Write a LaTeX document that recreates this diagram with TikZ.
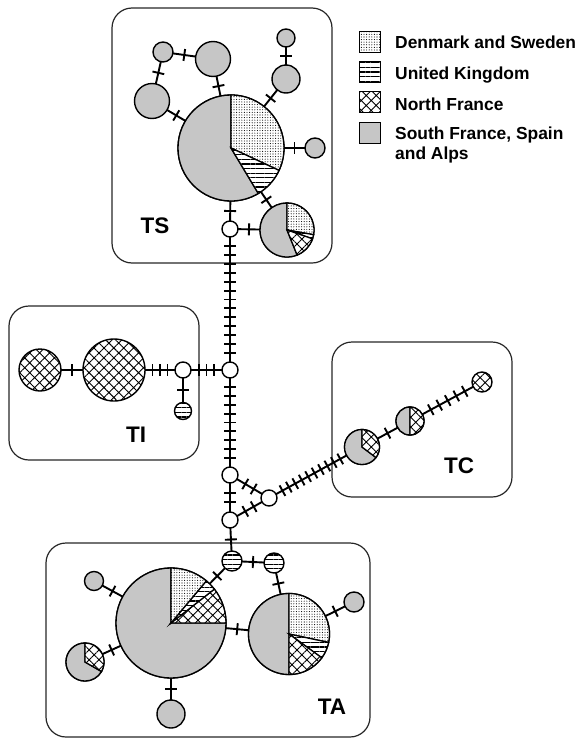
\documentclass[tikz,border=0pt]{standalone}
\usepackage{fontspec}
\setmainfont{Liberation Sans}
\usetikzlibrary{patterns.meta}
\definecolor{pg}{RGB}{198,198,198}
\tikzset{
  grp/.style={draw=black!85, line width=1.2pt, rounded corners=20pt},
  edge/.style={line width=1.9pt, black},
  tickmark/.style={rectangle, fill=black, draw=none, inner sep=0pt, outer sep=0pt, minimum width=1.9pt, minimum height=12pt},
  hn/.style={circle, draw=black, line width=1.4pt, inner sep=0pt, outer sep=0pt, minimum size=#1},
  dsl/.style={preaction={fill=white}, pattern={Dots[distance=2.6pt, radius=0.55pt]}},
  hsl/.style={preaction={fill=white}, pattern={Lines[angle=0, distance=4.6pt, line width=1.1pt]}},
  xsl/.style={preaction={fill=white}, pattern={Hatch[angle=45, distance=7pt, line width=0.9pt]}},
  gsl/.style={fill=pg},
  legsq/.style={rectangle, draw=black, line width=1.2pt, inner sep=0pt, minimum size=21pt},
  legtxt/.style={anchor=base west, inner sep=0pt, align=left, font=\bfseries\fontsize{17.4}{20}\selectfont},
  grplbl/.style={font=\bfseries\fontsize{22.5}{24}\selectfont, inner sep=0pt}
}
\newcommand\slc[5]{\draw[line width=1.3pt, #5] (#1.center) -- ++(#3:#2) arc[start angle=#3, end angle=#4, radius=#2] -- cycle;}
\newcommand\tedge[3]{%
  \draw[edge] (#1) -- (#2);
  \foreach \k in {1,...,#3}{%
    \pgfmathsetmacro\pp{\k/(#3+1)}%
    \path (#1) -- (#2) node[tickmark, sloped, pos=\pp]{};
  }%
}
\begin{document}
\begin{tikzpicture}[x=1pt,y=1pt]
\useasboundingbox (0,0) rectangle (579,-739);
% group boxes
\draw[grp] (112,-8) rectangle (332,-263);
\draw[grp] (9,-306) rectangle (199,-460);
\draw[grp] (332,-342) rectangle (512,-497);
\draw[grp] (46,-543) rectangle (370,-737);
\node[grplbl] (lts) at (155,-226) {TS};
\node[grplbl] (lti) at (136,-435) {TI};
\node[grplbl] (ltc) at (459,-466) {TC};
\node[grplbl] (lta) at (332,-707) {TA};

% TS nodes
\node[hn=106pt] (ts0) at (231,-148) {};
\node[hn=20pt, gsl] (ts1) at (163,-52) {};
\node[hn=35pt, gsl] (ts2) at (213,-59) {};
\node[hn=35pt, gsl] (ts3) at (152,-101) {};
\node[hn=18pt, gsl] (ts4) at (286,-38) {};
\node[hn=28pt, gsl] (ts5) at (286,-79) {};
\node[hn=20pt, gsl] (ts6) at (315,-148) {};
\node[hn=54pt] (ts7) at (287,-230) {};
\node[hn=16pt, fill=white] (w1) at (230,-229) {};
% junctions
\node[hn=16pt, fill=white] (j1) at (230,-370) {};
\node[hn=16pt, fill=white] (j2) at (230,-475) {};
\node[hn=16pt, fill=white] (j3) at (230,-520) {};
\node[hn=16pt, fill=white] (j4) at (269,-498) {};
% TI nodes
\node[hn=16pt, fill=white] (ti0) at (183,-370) {};
\node[hn=62pt, xsl] (ti1) at (114,-370) {};
\node[hn=42pt, xsl] (ti2) at (40,-370) {};
\node[hn=17pt, hsl] (ti3) at (183,-411) {};
% TC nodes
\node[hn=35pt] (tc0) at (362,-447) {};
\node[hn=28pt] (tc1) at (410,-421) {};
\node[hn=20pt, xsl] (tc2) at (482,-382) {};
% TA nodes
\node[hn=110pt] (ta0) at (171,-623) {};
\node[hn=20pt, hsl] (ta1) at (232,-561) {};
\node[hn=20pt, hsl] (ta2) at (274,-563) {};
\node[hn=81pt] (ta3) at (289,-634) {};
\node[hn=20pt, gsl] (ta4) at (354,-602) {};
\node[hn=19pt, gsl] (ta5) at (94,-581) {};
\node[hn=38pt] (ta6) at (85,-662) {};
\node[hn=28pt, gsl] (ta7) at (171,-714) {};

% pie slices
\slc{ts0}{53}{90}{301}{gsl}
\slc{ts0}{53}{-25}{90}{dsl}
\slc{ts0}{53}{-59}{-25}{hsl}
\slc{ts7}{27}{90}{292}{gsl}
\slc{ts7}{27}{-10}{90}{dsl}
\slc{ts7}{27}{-19}{-10}{hsl}
\slc{ts7}{27}{-68}{-19}{xsl}
\slc{tc0}{17.5}{90}{323}{gsl}
\slc{tc0}{17.5}{-37}{90}{xsl}
\slc{tc1}{14}{90}{270}{gsl}
\slc{tc1}{14}{-90}{90}{xsl}
\slc{ta0}{55}{90}{360}{gsl}
\slc{ta0}{55}{0}{38}{xsl}
\slc{ta0}{55}{38}{50}{hsl}
\slc{ta0}{55}{50}{90}{dsl}
\slc{ta3}{40.5}{90}{270}{gsl}
\slc{ta3}{40.5}{-12}{90}{dsl}
\slc{ta3}{40.5}{-36}{-12}{hsl}
\slc{ta3}{40.5}{-90}{-36}{xsl}
\slc{ta6}{19}{90}{330}{gsl}
\slc{ta6}{19}{-30}{90}{xsl}

% edges with mutation ticks
\tedge{ts1}{ts2}{1}
\tedge{ts1}{ts3}{1}
\tedge{ts3}{ts0}{1}
\tedge{ts2}{ts0}{1}
\tedge{ts4}{ts5}{1}
\tedge{ts5}{ts0}{1}
\tedge{ts0}{ts6}{1}
\tedge{ts0}{ts7}{1}
\tedge{ts0}{w1}{1}
\tedge{w1}{ts7}{1}
\tedge{w1}{j1}{13}
\tedge{ti0}{j1}{3}
\tedge{ti1}{ti0}{3}
\tedge{ti2}{ti1}{1}
\tedge{ti0}{ti3}{1}
\tedge{j1}{j2}{9}
\tedge{j2}{j3}{2}
\tedge{j2}{j4}{2}
\tedge{j3}{j4}{2}
\tedge{j4}{tc0}{10}
\tedge{tc0}{tc1}{1}
\tedge{tc1}{tc2}{5}
\tedge{j3}{ta1}{1}
\tedge{ta1}{ta0}{1}
\tedge{ta1}{ta2}{1}
\tedge{ta2}{ta3}{1}
\tedge{ta0}{ta3}{1}
\tedge{ta3}{ta4}{1}
\tedge{ta0}{ta5}{1}
\tedge{ta0}{ta6}{1}
\tedge{ta0}{ta7}{1}

% legend
\node[legsq, dsl] (lg1) at (370,-42) {};
\node[legsq, hsl] (lg2) at (370,-72) {};
\node[legsq, xsl] (lg3) at (370,-102) {};
\node[legsq, gsl] (lg4) at (370,-133) {};
\node[legtxt] (lt1) at (395,-48) {Denmark and Sweden};
\node[legtxt] (lt2) at (395,-79) {United Kingdom};
\node[legtxt] (lt3) at (395,-110) {North France};
\node[legtxt, anchor=north west] (lt4) at (395,-127) {South France, Spain\\and Alps};
\end{tikzpicture}
\end{document}
